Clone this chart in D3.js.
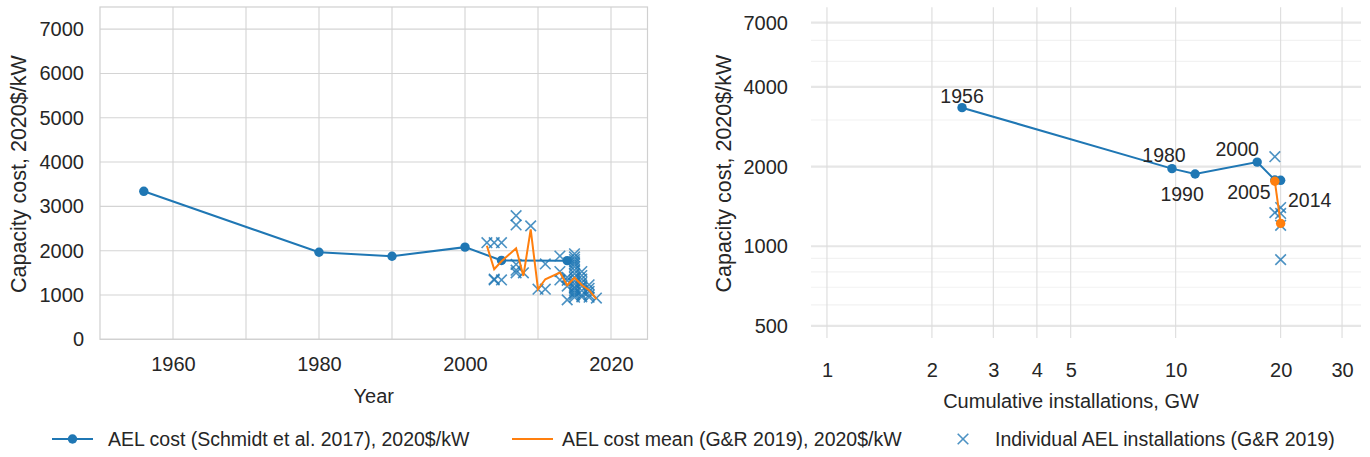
<!DOCTYPE html>
<html>
<head>
<meta charset="utf-8">
<script src="https://cdn.jsdelivr.net/npm/d3@7"></script>
<style>
  body { margin: 0; background: #fff; }
  text { font-family: "Liberation Sans", Arial, Helvetica, sans-serif; fill: #262626; }
</style>
</head>
<body>
<svg id="chart" width="1370" height="457"></svg>
<script>
// Alkaline electrolysis (AEL) capacity cost, 2020$/kW

// Schmidt et al. 2017 series
const schmidtYears = [1956, 1980, 1990, 2000, 2005, 2014];
const schmidtCost = [3340, 1965, 1875, 2080, 1780, 1775];
const schmidtCumGW = [2.44, 9.76, 11.37, 17.13, 19.25, 20.0];

// G&R 2019 yearly mean cost
const meanYears = [2003, 2004, 2005, 2007, 2008, 2009, 2010, 2011, 2013, 2014, 2015, 2016, 2017, 2018];
const meanCost = [2110, 1580, 1760, 2055, 1430, 2480, 1130, 1355, 1505, 1220, 1390, 1225, 1110, 905];

// G&R 2019 individual installations
const instYears = [
  2003,
  2004, 2004, 2004,
  2005, 2005,
  2007, 2007, 2007, 2007, 2007,
  2008, 2009, 2010,
  2011, 2011,
  2013, 2013, 2013,
  2014, 2014, 2014, 2014,
  2015, 2015, 2015, 2015, 2015, 2015, 2015, 2015, 2015, 2015, 2015, 2015, 2015, 2015, 2015, 2015, 2015,
  2016, 2016, 2016, 2016, 2016, 2016, 2016, 2016,
  2017, 2017, 2017, 2017, 2017,
  2018
];
const instCost = [
  2180,
  2180, 1360, 1340,
  2180, 1340,
  2790, 2580, 1690, 1560, 1500,
  1500, 2560, 1130,
  1700, 1130,
  1880, 1530, 1340,
  1400, 1330, 1200, 890,
  1930, 1860, 1800, 1750, 1700, 1640, 1560, 1480, 1400, 1320, 1250, 1180, 1150, 1100, 1050, 1000, 950,
  1530, 1440, 1360, 1280, 1200, 1100, 1000, 960,
  1230, 1150, 1080, 1000, 950,
  930
];

// Axis ticks
const leftYTicks = [0, 1000, 2000, 3000, 4000, 5000, 6000, 7000];
const leftXGrid = [1960, 1970, 1980, 1990, 2000, 2010, 2020];
const leftXTicks = [1960, 1980, 2000, 2020];
const rightXTicks = [1, 2, 3, 4, 5, 10, 20, 30];
const rightYTicks = [500, 1000, 2000, 4000, 7000];
const rightYMinor = [600, 700, 800, 900, 3000, 5000, 6000];

// Labels
const yTitle = "Capacity cost, 2020$/kW";
const leftXTitle = "Year";
const rightXTitle = "Cumulative installations, GW";
const legendLabels = [
  "AEL cost (Schmidt et al. 2017), 2020$/kW",
  "AEL cost mean (G&R 2019), 2020$/kW",
  "Individual AEL installations (G&R 2019)"
];

// Styling
const BLUE = "#1f77b4", ORANGE = "#ff7f0e";
const TICK_FS = 20, TITLE_FS = 20, YTITLE_FS = 21.5, LEGEND_FS = 19.5, ANNOT_FS = 19.5;
const DOT_R = 4.7, X_HALF = 5.3, X_W = 1.6;
const xMarker = s => `M${-s},${-s}L${s},${s}M${-s},${s}L${s},${-s}`;
// per-label text offsets (dx, dy) for right-panel year annotations
const annotOffsets = [[0, -5], [-8, -7], [-13, 27], [-20, -6], [-26, 19], [29, 27]];

const svg = d3.select("#chart");

const schmidt = schmidtYears.map((y, i) => ({ year: y, cost: schmidtCost[i], gw: schmidtCumGW[i] }));
const means = meanYears.map((y, i) => ({ year: y, cost: meanCost[i] }));
const inst = instYears.map((y, i) => ({ year: y, cost: instCost[i] }));
const gwByYear = new Map(schmidt.map(d => [d.year, d.gw]));

function drawX(sel) {
  return sel.attr("d", xMarker(X_HALF)).attr("stroke", BLUE).attr("stroke-opacity", 0.8)
    .attr("stroke-width", X_W).attr("fill", "none");
}

// ---------- Left panel: cost vs year ----------
{
  const x = d3.scaleLinear().domain([1950, 2025]).range([100, 647.5]);
  const y = d3.scaleLinear().domain([0, 7500]).range([339.3, 7]);
  const g = svg.append("g");
  const [x0, x1] = x.range(), [y0, y1] = y.range();

  g.append("g").selectAll("line").data(leftYTicks).join("line")
    .attr("x1", x0).attr("x2", x1).attr("y1", d => y(d)).attr("y2", d => y(d))
    .attr("stroke", "#d4d4d4").attr("stroke-width", 1.1);
  g.append("g").selectAll("line").data(leftXGrid).join("line")
    .attr("x1", d => x(d)).attr("x2", d => x(d)).attr("y1", y0).attr("y2", y1)
    .attr("stroke", "#d4d4d4").attr("stroke-width", 1.1);
  g.append("rect").attr("x", x0).attr("y", y1).attr("width", x1 - x0).attr("height", y0 - y1)
    .attr("fill", "none").attr("stroke", "#d0d0d0").attr("stroke-width", 1.2);

  const ya = g.append("g").attr("transform", `translate(${x0},0)`)
    .call(d3.axisLeft(y).tickValues(leftYTicks).tickSize(0).tickPadding(16).tickFormat(d3.format("d")));
  const xa = g.append("g").attr("transform", `translate(0,${y0})`)
    .call(d3.axisBottom(x).tickValues(leftXTicks).tickSize(0).tickPadding(18).tickFormat(d3.format("d")));
  [ya, xa].forEach(a => {
    a.select(".domain").remove();
    a.selectAll("text").attr("font-size", TICK_FS).attr("font-family", null).attr("fill", "#262626");
  });

  g.append("text").attr("x", (x0 + x1) / 2).attr("y", 403).attr("text-anchor", "middle")
    .attr("font-size", TITLE_FS).text(leftXTitle);
  g.append("text").attr("transform", `translate(26,${(y0 + y1) / 2 + 1}) rotate(-90)`)
    .attr("text-anchor", "middle").attr("font-size", YTITLE_FS).text(yTitle);

  g.append("g").selectAll("path").data(inst).join("path")
    .call(drawX).attr("transform", d => `translate(${x(d.year)},${y(d.cost)})`);

  const line = d3.line().x(d => x(d.year)).y(d => y(d.cost));
  g.append("path").datum(schmidt).attr("d", line)
    .attr("fill", "none").attr("stroke", BLUE).attr("stroke-width", 2);
  g.append("g").selectAll("circle").data(schmidt).join("circle")
    .attr("cx", d => x(d.year)).attr("cy", d => y(d.cost)).attr("r", DOT_R).attr("fill", BLUE);
  g.append("path").datum(means).attr("d", line)
    .attr("fill", "none").attr("stroke", ORANGE).attr("stroke-width", 2);
}

// ---------- Right panel: cost vs cumulative installations (log-log) ----------
{
  const x = d3.scaleLog().domain([0.9, 34]).range([811, 1361]);
  const y = d3.scaleLog().domain([450, 8000]).range([338, 7.3]);
  const g = svg.append("g");
  const [x0, x1] = x.range(), [y0, y1] = y.range();

  g.append("g").selectAll("line").data(rightYMinor).join("line")
    .attr("x1", x0).attr("x2", x1).attr("y1", d => y(d)).attr("y2", d => y(d))
    .attr("stroke", "#f2f2f2").attr("stroke-width", 1.2);
  g.append("g").selectAll("line").data(rightYTicks).join("line")
    .attr("x1", x0).attr("x2", x1).attr("y1", d => y(d)).attr("y2", d => y(d))
    .attr("stroke", "#e6e6e6").attr("stroke-width", 2.2);
  g.append("g").selectAll("line").data(rightXTicks).join("line")
    .attr("x1", d => x(d)).attr("x2", d => x(d)).attr("y1", y0).attr("y2", y1)
    .attr("stroke", "#dcdcdc").attr("stroke-width", 1.1);

  const ya = g.append("g").attr("transform", `translate(${x0},0)`)
    .call(d3.axisLeft(y).tickValues(rightYTicks).tickSize(0).tickPadding(23).tickFormat(d3.format("d")));
  const xa = g.append("g").attr("transform", `translate(0,${y0})`)
    .call(d3.axisBottom(x).tickValues(rightXTicks).tickSize(0).tickPadding(25).tickFormat(d3.format("d")));
  [ya, xa].forEach(a => {
    a.select(".domain").remove();
    a.selectAll("text").attr("font-size", TICK_FS).attr("font-family", null).attr("fill", "#262626");
  });

  g.append("text").attr("x", 1071).attr("y", 408).attr("text-anchor", "middle")
    .attr("font-size", TITLE_FS).text(rightXTitle);
  g.append("text").attr("transform", `translate(731,${(y0 + y1) / 2 + 1}) rotate(-90)`)
    .attr("text-anchor", "middle").attr("font-size", YTITLE_FS).text(yTitle);

  const instR = inst.filter(d => gwByYear.has(d.year)).map(d => ({ ...d, gw: gwByYear.get(d.year) }));
  const meansR = means.filter(d => gwByYear.has(d.year)).map(d => ({ ...d, gw: gwByYear.get(d.year) }));

  g.append("g").selectAll("path").data(instR).join("path")
    .call(drawX).attr("transform", d => `translate(${x(d.gw)},${y(d.cost)})`);

  const line = d3.line().x(d => x(d.gw)).y(d => y(d.cost));
  g.append("path").datum(schmidt).attr("d", line)
    .attr("fill", "none").attr("stroke", BLUE).attr("stroke-width", 2);
  g.append("g").selectAll("circle").data(schmidt).join("circle")
    .attr("cx", d => x(d.gw)).attr("cy", d => y(d.cost)).attr("r", DOT_R).attr("fill", BLUE);
  g.append("path").datum(meansR).attr("d", line)
    .attr("fill", "none").attr("stroke", ORANGE).attr("stroke-width", 2);
  g.append("g").selectAll("circle").data(meansR).join("circle")
    .attr("cx", d => x(d.gw)).attr("cy", d => y(d.cost)).attr("r", DOT_R).attr("fill", ORANGE);

  g.append("g").selectAll("text").data(schmidt).join("text")
    .attr("x", (d, i) => x(d.gw) + annotOffsets[i][0])
    .attr("y", (d, i) => y(d.cost) + annotOffsets[i][1])
    .attr("text-anchor", "middle").attr("font-size", ANNOT_FS)
    .text(d => d.year);
}

// ---------- Legend ----------
{
  const g = svg.append("g").attr("transform", "translate(0,439)");
  const items = [
    { x: 52, textX: 108, kind: "lineDot", color: BLUE },
    { x: 512, textX: 562, kind: "line", color: ORANGE },
    { x: 963, textX: 995, kind: "x", color: BLUE }
  ];
  items.forEach((it, i) => {
    if (it.kind === "x") {
      g.append("path").call(drawX).attr("transform", `translate(${it.x},0)`);
    } else {
      g.append("line").attr("x1", it.x).attr("x2", it.x + 41).attr("y1", 0).attr("y2", 0)
        .attr("stroke", it.color).attr("stroke-width", 2);
      if (it.kind === "lineDot") g.append("circle").attr("cx", it.x + 20.5).attr("cy", 0).attr("r", DOT_R).attr("fill", it.color);
    }
    g.append("text").attr("x", it.textX).attr("y", 0).attr("dy", "0.36em")
      .attr("font-size", LEGEND_FS).text(legendLabels[i]);
  });
}
</script>
</body>
</html>
